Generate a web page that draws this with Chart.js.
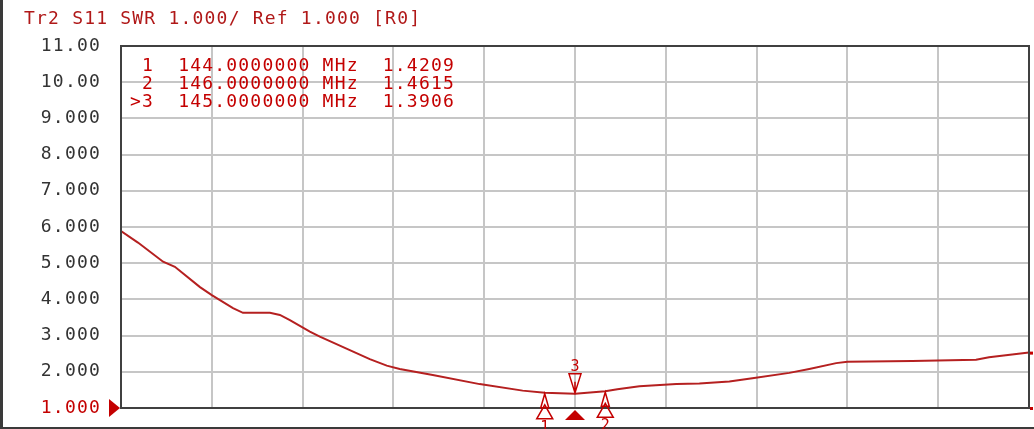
<!DOCTYPE html>
<html>
<head>
<meta charset="utf-8">
<script src="https://cdn.jsdelivr.net/npm/chart.js@4.4.1/dist/chart.umd.min.js"></script>
<style>
  html, body { margin: 0; padding: 0; background: #fff; }
</style>
</head>
<body>
<canvas id="c" width="1034" height="429"></canvas>
<script>
// trace header
const titleText = "Tr2 S11 SWR 1.000/ Ref 1.000 [R0]";

// sweep 130 - 160 MHz, SWR
const freqMHz = [130.0, 130.56, 131.39, 131.78, 132.61, 133.0, 133.7, 134.03, 134.92, 135.25,
  135.58, 136.24, 136.57, 137.56, 138.22, 138.78, 139.21, 140.3, 141.85, 143.27,
  144.0, 145.0, 146.0, 146.4, 147.13, 148.35, 149.11, 150.1, 150.86, 152.08,
  152.74, 153.63, 154.0, 156.14, 158.25, 158.68, 160.0];
const swrValues = [5.89, 5.57, 5.04, 4.90, 4.34, 4.12, 3.76, 3.63, 3.63, 3.57,
  3.43, 3.11, 2.97, 2.60, 2.35, 2.17, 2.08, 1.91, 1.66, 1.48,
  1.4209, 1.3906, 1.4615, 1.52, 1.60, 1.66, 1.68, 1.73, 1.82, 1.97,
  2.08, 2.24, 2.28, 2.30, 2.33, 2.40, 2.53];

const yTickLabels = ["1.000", "2.000", "3.000", "4.000", "5.000", "6.000",
  "7.000", "8.000", "9.000", "10.00", "11.00"];

// markers
const markerIds = ["1", "2", "3"];
const markerFreqs = [144, 146, 145];
const markerSwr = [1.4209, 1.4615, 1.3906];
const activeMarker = 2;

const RED = "#c40000";
const TRACE = "#b52020";
const MONO = "'DejaVu Sans Mono', 'Liberation Mono', monospace";
const SPACING = "1.2px";

Chart.defaults.font.family = MONO;

// text spacing + decorations drawn around the plot
const vnaPlugin = {
  id: "vna",
  beforeDraw(chart) {
    chart.ctx.letterSpacing = SPACING;
  },
  afterDraw(chart) {
    const ctx = chart.ctx;
    const a = chart.chartArea;
    const xs = chart.scales.x;
    const ys = chart.scales.y;
    ctx.save();
    ctx.letterSpacing = SPACING;

    // window frame
    ctx.fillStyle = "#3a3a3a";
    ctx.fillRect(0, 0, 3, chart.height);
    ctx.fillRect(0, chart.height - 2, chart.width, 2);

    // plot frame
    ctx.strokeStyle = "#404040";
    ctx.lineWidth = 2;
    ctx.strokeRect(a.left, a.top, a.right - a.left, a.bottom - a.top);

    // title
    ctx.font = "18px " + MONO;
    ctx.fillStyle = "#b01818";
    ctx.textBaseline = "alphabetic";
    ctx.textAlign = "left";
    ctx.fillText(titleText, 24, 24);

    // marker table
    ctx.fillStyle = RED;
    markerIds.forEach((id, i) => {
      const pre = i === activeMarker ? ">" + id : " " + id;
      const line = pre + "  " + markerFreqs[i].toFixed(7) + " MHz  " + markerSwr[i].toFixed(4);
      ctx.fillText(line, 130, 71 + i * 18);
    });

    // reference level arrow
    const yRef = ys.getPixelForValue(1);
    ctx.beginPath();
    ctx.moveTo(a.left - 1, yRef);
    ctx.lineTo(a.left - 12, yRef - 9);
    ctx.lineTo(a.left - 12, yRef + 9);
    ctx.closePath();
    ctx.fill();

    // stimulus position of active marker
    const xc = xs.getPixelForValue(markerFreqs[activeMarker]);
    ctx.beginPath();
    ctx.moveTo(xc, a.bottom + 2);
    ctx.lineTo(xc - 10, a.bottom + 12);
    ctx.lineTo(xc + 10, a.bottom + 12);
    ctx.closePath();
    ctx.fill();

    // trace end mark
    const yEnd = ys.getPixelForValue(swrValues[swrValues.length - 1]);
    ctx.fillRect(a.right + 1, yEnd - 1, 3, 3);
    ctx.fillRect(a.right + 1, yRef - 1, 3, 3);

    // marker glyphs
    ctx.strokeStyle = RED;
    ctx.lineWidth = 1.5;
    ctx.font = "15px " + MONO;
    ctx.letterSpacing = "0px";
    ctx.textAlign = "center";
    markerIds.forEach((id, i) => {
      const mx = xs.getPixelForValue(markerFreqs[i]);
      const my = ys.getPixelForValue(markerSwr[i]);
      ctx.beginPath();
      if (i === activeMarker) {
        ctx.moveTo(mx, my - 1);
        ctx.lineTo(mx - 6, my - 20);
        ctx.lineTo(mx + 6, my - 20);
        ctx.closePath();
        ctx.moveTo(mx, my - 1);
        ctx.lineTo(mx, my - 12);
        ctx.stroke();
        ctx.fillText(id, mx, my - 23);
      } else {
        ctx.moveTo(mx, my + 1);
        ctx.lineTo(mx - 4, my + 15);
        ctx.lineTo(mx + 4, my + 15);
        ctx.closePath();
        ctx.moveTo(mx, my + 12);
        ctx.lineTo(mx - 8, my + 26);
        ctx.lineTo(mx + 8, my + 26);
        ctx.closePath();
        ctx.stroke();
        ctx.fillText(id, mx, my + 39);
      }
    });
    ctx.restore();
  }
};

new Chart(document.getElementById("c"), {
  type: "line",
  data: {
    datasets: [{
      label: "S11 SWR",
      data: freqMHz.map((f, i) => ({ x: f, y: swrValues[i] })),
      borderColor: TRACE,
      borderWidth: 2,
      pointRadius: 0,
      tension: 0,
      fill: false
    }]
  },
  options: {
    responsive: false,
    animation: false,
    layout: { padding: { top: 46, right: 5, left: 0, bottom: 0 } },
    plugins: {
      legend: { display: false },
      tooltip: { enabled: false }
    },
    scales: {
      x: {
        type: "linear",
        min: 130,
        max: 160,
        ticks: { display: false, stepSize: 3 },
        grid: { color: "#c6c6c6", lineWidth: 2, drawTicks: false },
        border: { display: false },
        afterFit(s) { s.height = 21; s.paddingLeft = 0; s.paddingRight = 0; }
      },
      y: {
        min: 1,
        max: 11,
        ticks: {
          stepSize: 1,
          padding: 20,
          font: { size: 18 },
          color: (c) => (c.index === 0 ? RED : "#333333"),
          callback: (v, i) => yTickLabels[i]
        },
        grid: { color: "#c6c6c6", lineWidth: 2, drawTicks: false },
        border: { display: false },
        afterFit(s) { s.width = 121; s.paddingTop = 0; s.paddingBottom = 0; }
      }
    }
  },
  plugins: [vnaPlugin]
});
</script>
</body>
</html>
